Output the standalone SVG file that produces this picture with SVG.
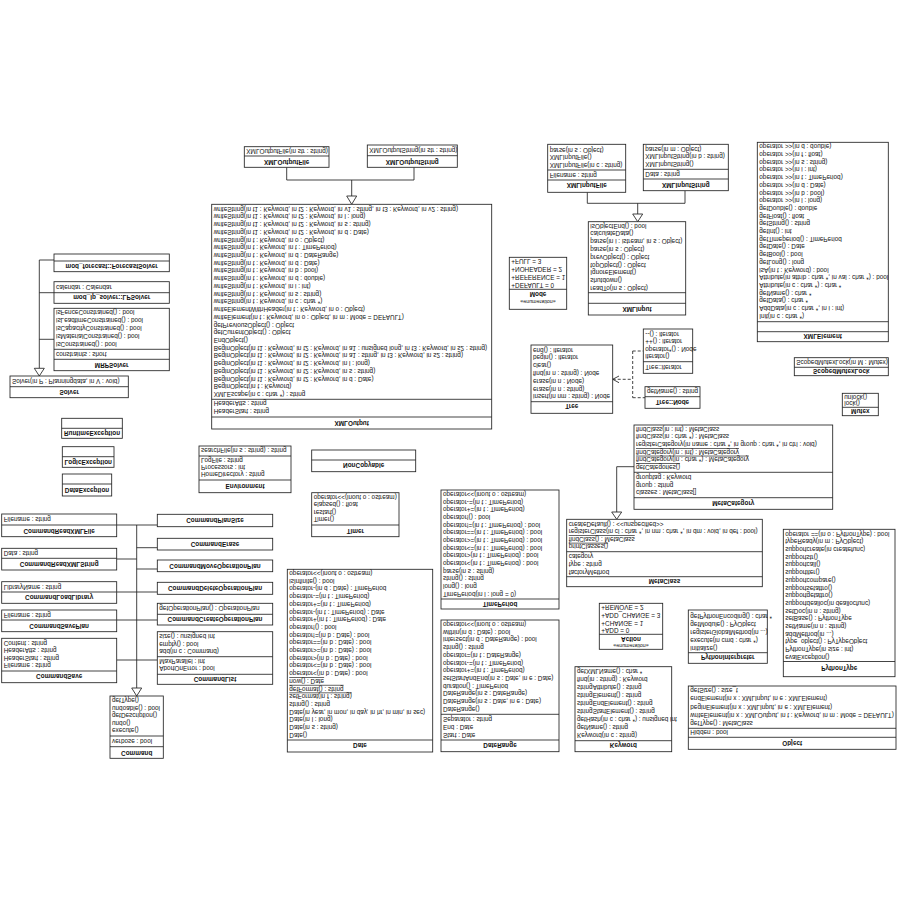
<svg xmlns="http://www.w3.org/2000/svg" width="900" height="900" viewBox="0 0 900 900">
<style>
.c{fill:#fff;stroke:#222;stroke-width:.85}
.w{fill:none;stroke:#222;stroke-width:.85}
.dash{stroke-dasharray:3 2}
.tri{fill:#fff;stroke:#222;stroke-width:.85}
text{font-family:"Liberation Sans",Arial,sans-serif;font-size:6.4px;fill:#111}
.n{font-weight:bold;text-anchor:middle}
.s{font-size:5.3px;text-anchor:middle}
.u{text-decoration:underline}
</style>
<rect width="900" height="900" fill="#fff"/>
<!-- the whole class diagram is drawn mirrored top-to-bottom -->
<g transform="matrix(1 0 0 -1 0 900)">

<g id="connectors">
  <!-- XMLOutput hierarchy -->
  <path class="w" d="M286.7 732.7V720H414V732.7M351.7 720V704"/>
  <polygon class="tri" points="351.7,695.7 346.7,704 356.7,704"/>
  <!-- Solver hierarchy -->
  <path class="w" d="M39.3 640V531.7M39.3 640H54M39.3 607.3H54M39.3 560.7H54"/>
  <polygon class="tri" points="39.3,524 34.3,531.7 44.3,531.7"/>
  <!-- XMLInput hierarchy -->
  <path class="w" d="M587.3 707.7V696.7H685V709.3M637.7 696.7V686"/>
  <polygon class="tri" points="637.7,678.3 632.7,686 642.7,686"/>
  <!-- Tree nesting -->
  <path class="w dash" d="M612.7 520.7H632.7M632.7 549V502.3M632.7 549H643.3M632.7 502.3H645"/>
  <polyline class="w" points="619,524 612.7,520.7 619,517.3"/>
  <!-- MetaClass hierarchy -->
  <path class="w" d="M634 433.3H616.7V388"/>
  <polygon class="tri" points="616.7,380.7 611.7,388 621.7,388"/>
  <!-- Command hierarchy -->
  <path class="w" d="M136.7 375V212M116.7 375H157.3M116.7 341H136.7M116.7 308H157.3M116.7 280H157.3M116.7 240H157.3M136.7 352.3H157.3M136.7 331H157.3"/>
  <polygon class="tri" points="136.7,204 131.7,212 141.7,212"/>
</g>

<g id="XMLOutput">
  <rect class="c" x="211.7" y="471" width="280" height="224.7"/>
  <path class="w" d="M211.7 483H491.7M211.7 500.7H491.7"/>
  <text class="n" x="351.7" y="478.6">XMLOutput</text>
  <text x="213.7" y="490.6">HeaderStart : string</text>
  <text x="213.7" y="498.6">HeaderAtts : string</text>
  <text x="213.7" y="508">
    <tspan x="213.7" dy="0">XMLEscape(in c : char *) : string</tspan>
    <tspan x="213.7" dy="7.72">BeginObject(in t : Keyword)</tspan>
    <tspan x="213.7" dy="7.72">BeginObject(in t1 : Keyword, in t2 : Keyword, in d : Date)</tspan>
    <tspan x="213.7" dy="7.72">BeginObject(in t1 : Keyword, in t2 : Keyword, in s : string)</tspan>
    <tspan x="213.7" dy="7.72">BeginObject(in t1 : Keyword, in t2 : Keyword, in l : long)</tspan>
    <tspan x="213.7" dy="7.72">BeginObject(in t1 : Keyword, in t2 : Keyword, in a1 : string, in t3 : Keyword, in s2 : string)</tspan>
    <tspan x="213.7" dy="7.72">BeginObject(in t1 : Keyword, in t2 : Keyword, in a1 : unsigned long, in t3 : Keyword, in s2 : string)</tspan>
    <tspan x="213.7" dy="7.72">EndObject()</tspan>
    <tspan x="213.7" dy="7.72">getCurrentObject() : Object</tspan>
    <tspan x="213.7" dy="7.72">getPreviousObject() : Object</tspan>
    <tspan x="213.7" dy="7.72">writeElement(in t : Keyword, in o : Object, in m : Mode = DEFAULT)</tspan>
    <tspan x="213.7" dy="7.72">writeElementWithHeader(in t : Keyword, in o : Object)</tspan>
    <tspan x="213.7" dy="7.72">writeString(in t : Keyword, in c : char *)</tspan>
    <tspan x="213.7" dy="7.72">writeString(in t : Keyword, in s : string)</tspan>
    <tspan x="213.7" dy="7.72">writeString(in t : Keyword, in i : int)</tspan>
    <tspan x="213.7" dy="7.72">writeString(in t : Keyword, in d : double)</tspan>
    <tspan x="213.7" dy="7.72">writeString(in t : Keyword, in b : bool)</tspan>
    <tspan x="213.7" dy="7.72">writeString(in t : Keyword, in d : Date)</tspan>
    <tspan x="213.7" dy="7.72">writeString(in t : Keyword, in d : DateRange)</tspan>
    <tspan x="213.7" dy="7.72">writeString(in t : Keyword, in t : TimePeriod)</tspan>
    <tspan x="213.7" dy="7.72">writeString(in t : Keyword, in o : Object)</tspan>
    <tspan x="213.7" dy="7.72">writeString(in t1 : Keyword, in t2 : Keyword, in d : Date)</tspan>
    <tspan x="213.7" dy="7.72">writeString(in t1 : Keyword, in t2 : Keyword, in s : string)</tspan>
    <tspan x="213.7" dy="7.72">writeString(in t1 : Keyword, in t2 : Keyword, in l : long)</tspan>
    <tspan x="213.7" dy="7.72">writeString(in t1 : Keyword, in t2 : Keyword, in v1 : string, in t3 : Keyword, in v2 : string)</tspan>
  </text>
</g>

<g id="XMLOutputFile">
  <rect class="c" x="244.3" y="732.7" width="84.7" height="20.6"/>
  <path class="w" d="M244.3 744H329"/>
  <text class="n" x="286.7" y="740">XMLOutputFile</text>
  <text x="246.3" y="751.4">XMLOutputFile(in str : string)</text>
</g>

<g id="XMLOutputString">
  <rect class="c" x="367.3" y="732.7" width="90" height="22.3"/>
  <path class="w" d="M367.3 744.3H457.3"/>
  <text class="n" x="412.3" y="740">XMLOutputString</text>
  <text x="369.3" y="751.8">XMLOutputString(in str : string)</text>
</g>

<g id="ForecastSolver">
  <rect class="c" x="54" y="628.3" width="115.3" height="17.7"/>
  <path class="w" d="M54 639H169.3"/>
  <text class="n" x="111.7" y="636.3">mod_forecast::ForecastSolver</text>
</g>

<g id="LPSolver">
  <rect class="c" x="54" y="596.7" width="115.3" height="21.6"/>
  <path class="w" d="M54 607.3H169.3"/>
  <text class="n" x="111.7" y="604.6">mod_lp_solver::LPSolver</text>
  <text x="56" y="615">calendar : Calendar</text>
</g>

<g id="MRPSolver">
  <rect class="c" x="54" y="529.3" width="115.3" height="62.4"/>
  <path class="w" d="M54 540.7H169.3M54 550.7H169.3"/>
  <text class="n" x="111.7" y="537.3">MRPSolver</text>
  <text x="56" y="548">constraints : short</text>
  <text x="56" y="557.6">
    <tspan x="56" dy="0">isConstrained() : bool</tspan>
    <tspan x="56" dy="8">isMaterialConstrained() : bool</tspan>
    <tspan x="56" dy="8">isCapacityConstrained() : bool</tspan>
    <tspan x="56" dy="8">isLeadtimeConstrained() : bool</tspan>
    <tspan x="56" dy="8">isFenceConstrained() : bool</tspan>
  </text>
</g>

<g id="Solver">
  <rect class="c" x="10" y="502.3" width="118.3" height="21.7"/>
  <path class="w" d="M10 513.3H128.3"/>
  <text class="n" x="69.2" y="510">Solver</text>
  <text x="12" y="520.6">Solver(in P : Planningdata, in V : void)</text>
</g>

<g id="RuntimeException">
  <rect class="c" x="61.7" y="461.7" width="60.6" height="20"/>
  <path class="w" d="M61.7 471.7H122.3"/>
  <text class="n" x="92" y="469">RuntimeException</text>
</g>

<g id="LogicException">
  <rect class="c" x="62.3" y="432.7" width="51.7" height="20.6"/>
  <path class="w" d="M62.3 443.3H114"/>
  <text class="n" x="88.2" y="440">LogicException</text>
</g>

<g id="DataException">
  <rect class="c" x="62.3" y="404" width="49.4" height="22"/>
  <path class="w" d="M62.3 416H111.7"/>
  <text class="n" x="87" y="412.3">DataException</text>
</g>

<g id="XMLInputFile">
  <rect class="c" x="547.7" y="707.7" width="78" height="48"/>
  <path class="w" d="M547.7 720H625.7M547.7 730H625.7"/>
  <text class="n" x="586.7" y="716.6">XMLInputFile</text>
  <text x="549.7" y="727.3">Filename : string</text>
  <text x="549.7" y="737">
    <tspan x="549.7" dy="0">XMLInputFile(in c : string)</tspan>
    <tspan x="549.7" dy="7.7">XMLInputFile()</tspan>
    <tspan x="549.7" dy="7.7">parse(in s : Object)</tspan>
  </text>
</g>

<g id="XMLInputString">
  <rect class="c" x="643.3" y="709.3" width="85" height="46.4"/>
  <path class="w" d="M643.3 721H728.3M643.3 730.7H728.3"/>
  <text class="n" x="685.8" y="717.3">XMLInputString</text>
  <text x="645.3" y="728.3">Data : string</text>
  <text x="645.3" y="738.3">
    <tspan x="645.3" dy="0">XMLInputString()</tspan>
    <tspan x="645.3" dy="7.6">XMLInputString(in b : string)</tspan>
    <tspan x="645.3" dy="7.6">parse(in m : Object)</tspan>
  </text>
</g>

<g id="XMLInput">
  <rect class="c" x="588.3" y="585" width="97.4" height="93.3"/>
  <path class="w" d="M588.3 596.7H685.7M588.3 607.3H685.7"/>
  <text class="n" x="637" y="593.3">XMLInput</text>
  <text x="590.3" y="614">
    <tspan x="590.3" dy="0">readTo(in s : Object)</tspan>
    <tspan x="590.3" dy="7.8">shutdown()</tspan>
    <tspan x="590.3" dy="7.8">IgnoreElement()</tspan>
    <tspan x="590.3" dy="7.8">topObject() : Object</tspan>
    <tspan x="590.3" dy="7.8">prevObject() : Object</tspan>
    <tspan x="590.3" dy="7.8">parse(in s : Object)</tspan>
    <tspan x="590.3" dy="7.8">parse(in i : istream, in s : Object)</tspan>
    <tspan x="590.3" dy="7.8">calculateData()</tspan>
    <tspan x="590.3" dy="7.8">isObjectEnd() : bool</tspan>
  </text>
</g>

<g id="Mode">
  <rect class="c" x="509.3" y="590.7" width="57.4" height="52"/>
  <path class="w" d="M509.3 610.7H566.7"/>
  <text class="s" x="538" y="600.3">«enumeration»</text>
  <text class="n" x="538" y="607.6">Mode</text>
  <text x="511.3" y="617.3">
    <tspan x="511.3" dy="0">+DEFAULT = 0</tspan>
    <tspan x="511.3" dy="7.8">+REFERENCE = 1</tspan>
    <tspan x="511.3" dy="7.8">+NOHEADER = 2</tspan>
    <tspan x="511.3" dy="7.8">+FULL = 3</tspan>
  </text>
</g>

<g id="Tree">
  <rect class="c" x="531" y="486.7" width="81.7" height="68.3"/>
  <path class="w" d="M531 498.3H612.7"/>
  <text class="n" x="571.8" y="495.6">Tree</text>
  <text x="533" y="505.6">
    <tspan x="533" dy="0">insert(in nm : string) : Node</tspan>
    <tspan x="533" dy="7.8">erase(in n : string)</tspan>
    <tspan x="533" dy="7.8">erase(in n : Node)</tspan>
    <tspan x="533" dy="7.8">find(in n : string) : Node</tspan>
    <tspan x="533" dy="7.8">clear()</tspan>
    <tspan x="533" dy="7.8">begin() : iterator</tspan>
    <tspan x="533" dy="7.8">end() : iterator</tspan>
  </text>
</g>

<g id="TreeIterator">
  <rect class="c" x="643.3" y="526.7" width="49.4" height="44.3"/>
  <path class="w" d="M643.3 538.3H692.7"/>
  <text x="645.3" y="535">Tree::iterator</text>
  <text x="645.3" y="545.6">
    <tspan x="645.3" dy="0">iterator()</tspan>
    <tspan x="645.3" dy="7.5">operator*() : Node</tspan>
    <tspan x="645.3" dy="7.5">++() : iterator</tspan>
    <tspan x="645.3" dy="7.5">--() : iterator</tspan>
  </text>
</g>

<g id="TreeNode">
  <rect class="c" x="645" y="491.7" width="55" height="21.6"/>
  <path class="w" d="M645 503.3H700"/>
  <text class="n" x="672.5" y="500">Tree::Node</text>
  <text x="647" y="510.6">getName() : string</text>
</g>

<g id="XMLElement">
  <rect class="c" x="757.3" y="558.3" width="131" height="199.4"/>
  <path class="w" d="M757.3 568.3H888.3M757.3 578.3H888.3"/>
  <text class="n" x="822.8" y="565.6">XMLElement</text>
  <text x="759.3" y="586.3">
    <tspan x="759.3" dy="0">Init(in c : char *)</tspan>
    <tspan x="759.3" dy="7.7">AddData(in c : char *, in i : int)</tspan>
    <tspan x="759.3" dy="7.7">getData() : char *</tspan>
    <tspan x="759.3" dy="7.7">getName() : char *</tspan>
    <tspan x="759.3" dy="7.7">Attribute(in c : char *) : char *</tspan>
    <tspan x="759.3" dy="7.7">Attribute(in attrib : char *, in val : char *) : bool</tspan>
    <tspan x="759.3" dy="7.7">isA(in t : Keyword) : bool</tspan>
    <tspan x="759.3" dy="7.7">getLong() : long</tspan>
    <tspan x="759.3" dy="7.7">getBool() : bool</tspan>
    <tspan x="759.3" dy="7.7">getDate() : Date</tspan>
    <tspan x="759.3" dy="7.7">getTimeperiod() : TimePeriod</tspan>
    <tspan x="759.3" dy="7.7">getInt() : int</tspan>
    <tspan x="759.3" dy="7.7">getString() : string</tspan>
    <tspan x="759.3" dy="7.7">getFloat() : float</tspan>
    <tspan x="759.3" dy="7.7">getDouble() : double</tspan>
    <tspan x="759.3" dy="7.7">operator &gt;&gt;(in l : long)</tspan>
    <tspan x="759.3" dy="7.7">operator &gt;&gt;(in b : bool)</tspan>
    <tspan x="759.3" dy="7.7">operator &gt;&gt;(in d : Date)</tspan>
    <tspan x="759.3" dy="7.7">operator &gt;&gt;(in t : TimePeriod)</tspan>
    <tspan x="759.3" dy="7.7">operator &gt;&gt;(in i : int)</tspan>
    <tspan x="759.3" dy="7.7">operator &gt;&gt;(in s : string)</tspan>
    <tspan x="759.3" dy="7.7">operator &gt;&gt;(in f : float)</tspan>
    <tspan x="759.3" dy="7.7">operator &gt;&gt;(in d : double)</tspan>
  </text>
</g>

<g id="ScopedMutexLock">
  <rect class="c" x="794.3" y="524.3" width="94" height="18"/>
  <path class="w" d="M794.3 532.7H888.3"/>
  <text class="n" x="841.3" y="530.6">ScopedMutexLock</text>
  <text x="796.3" y="539.8">ScopedMutexLock(in M : Mutex)</text>
</g>

<g id="Mutex">
  <rect class="c" x="842.3" y="484.3" width="36" height="22.4"/>
  <path class="w" d="M842.3 492.7H878.3"/>
  <text class="n" x="860.3" y="490.6">Mutex</text>
  <text x="844.3" y="499">lock()</text>
  <text x="844.3" y="505.3">unlock()</text>
</g>

<g id="Environment">
  <rect class="c" x="199" y="407.3" width="92" height="46.7"/>
  <path class="w" d="M199 420H291M199 444H291"/>
  <text class="n" x="245" y="416.3">Environment</text>
  <text x="201" y="428">
    <tspan x="201" dy="0">HomeDirectory : string</tspan>
    <tspan x="201" dy="6.8">Processors : int</tspan>
    <tspan x="201" dy="6.8">LogFile : string</tspan>
  </text>
  <text x="201" y="451.6">searchFile(in s : string) : string</text>
</g>

<g id="NonCopyable">
  <rect class="c" x="311.7" y="428.3" width="104" height="21.7"/>
  <path class="w" d="M311.7 440H415.7"/>
  <text class="n" x="363.7" y="436.6">NonCopyable</text>
</g>

<g id="Timer">
  <rect class="c" x="311.7" y="363.3" width="87.3" height="44"/>
  <path class="w" d="M311.7 375H399"/>
  <text class="n" x="355.3" y="371.3">Timer</text>
  <text x="313.7" y="383">
    <tspan x="313.7" dy="0">Timer()</tspan>
    <tspan x="313.7" dy="7.4">restart()</tspan>
    <tspan x="313.7" dy="7.4">elapsed() : float</tspan>
    <tspan x="313.7" dy="7.4">operator&lt;&lt;(inout o : ostream)</tspan>
  </text>
</g>

<g id="CommandReadXMLFile">
  <rect class="c" x="1.7" y="363.3" width="115" height="22.7"/>
  <path class="w" d="M1.7 375H116.7"/>
  <text class="n" x="59.2" y="371.3">CommandReadXMLFile</text>
  <text x="3.7" y="382.6">Filename : string</text>
</g>

<g id="CommandReadXMLString">
  <rect class="c" x="1.7" y="330" width="115" height="21.7"/>
  <path class="w" d="M1.7 341.7H116.7"/>
  <text class="n" x="59.2" y="338">CommandReadXMLString</text>
  <text x="3.7" y="349">Data : string</text>
</g>

<g id="CommandLoadLibrary">
  <rect class="c" x="1.7" y="296.7" width="115" height="21.6"/>
  <path class="w" d="M1.7 308H116.7"/>
  <text class="n" x="59.2" y="304.6">CommandLoadLibrary</text>
  <text x="3.7" y="315.3">LibraryName : string</text>
</g>

<g id="CommandSavePlan">
  <rect class="c" x="1.7" y="268.3" width="115" height="21.7"/>
  <path class="w" d="M1.7 280H116.7"/>
  <text class="n" x="59.2" y="276.3">CommandSavePlan</text>
  <text x="3.7" y="287.3">Filename : string</text>
</g>

<g id="CommandSave">
  <rect class="c" x="1.7" y="217.3" width="115" height="44.4"/>
  <path class="w" d="M1.7 229H116.7"/>
  <text class="n" x="59.2" y="225.6">CommandSave</text>
  <text x="3.7" y="236.6">
    <tspan x="3.7" dy="0">Filename : string</tspan>
    <tspan x="3.7" dy="7.5">HeaderStart : string</tspan>
    <tspan x="3.7" dy="7.5">HeaderAtts : string</tspan>
    <tspan x="3.7" dy="7.5">Content : string</tspan>
  </text>
</g>

<g id="CommandPlanSize">
  <rect class="c" x="157.3" y="373.3" width="115.4" height="12.4"/>
  <text class="n" x="215" y="381.6">CommandPlanSize</text>
</g>

<g id="CommandErase">
  <rect class="c" x="157.3" y="350" width="115.4" height="11.7"/>
  <text class="n" x="215" y="358.3">CommandErase</text>
</g>

<g id="CommandMoveOperationPlan">
  <rect class="c" x="157.3" y="328.3" width="115.4" height="11.7"/>
  <text class="n" x="215" y="336.5">CommandMoveOperationPlan</text>
</g>

<g id="CommandDeleteOperationPlan">
  <rect class="c" x="157.3" y="305.7" width="115.4" height="12"/>
  <text class="n" x="215" y="314">CommandDeleteOperationPlan</text>
</g>

<g id="CommandCreateOperationPlan">
  <rect class="c" x="157.3" y="275" width="115.4" height="21.7"/>
  <path class="w" d="M157.3 285.7H272.7"/>
  <text class="n" x="215" y="282.6">CommandCreateOperationPlan</text>
  <text x="159.3" y="293.6">getOperationPlan() : OperationPlan</text>
</g>

<g id="CommandList">
  <rect class="c" x="157.3" y="215.7" width="115.4" height="52.6"/>
  <path class="w" d="M157.3 225.7H272.7M157.3 243.3H272.7"/>
  <text class="n" x="215" y="223.3">CommandList</text>
  <text x="159.3" y="234">AbortOnError : bool</text>
  <text x="159.3" y="240.8">MaxParallel : int</text>
  <text x="159.3" y="251.3">
    <tspan x="159.3" dy="0">add(in c : Command)</tspan>
    <tspan x="159.3" dy="7.2">empty() : bool</tspan>
    <tspan x="159.3" dy="7.2">size() : unsigned int</tspan>
  </text>
</g>

<g id="Command">
  <rect class="c" x="110" y="141.7" width="53.3" height="62.3"/>
  <path class="w" d="M110 153.3H163.3M110 164H163.3"/>
  <text class="n" x="136.7" y="149.2">Command</text>
  <text x="112" y="161.3">verbose : bool</text>
  <text x="112" y="171.6">
    <tspan x="112" dy="0">execute()</tspan>
    <tspan x="112" dy="7.6">undo()</tspan>
    <tspan x="112" dy="7.6">getDescription()</tspan>
    <tspan x="112" dy="7.6">undoable() : bool</tspan>
    <tspan x="112" dy="7.6">getType()</tspan>
  </text>
</g>

<g id="Date">
  <rect class="c" x="287.3" y="148" width="145.4" height="182.7"/>
  <path class="w" d="M287.3 160H432.7"/>
  <text class="n" x="360" y="156.6">Date</text>
  <text x="289.3" y="167.3">
    <tspan x="289.3" dy="0">Date()</tspan>
    <tspan x="289.3" dy="7.7">Date(in s : string)</tspan>
    <tspan x="289.3" dy="7.7">Date(in l : long)</tspan>
    <tspan x="289.3" dy="7.7">Date(in year, in mon, in day, in hr, in min, in sec)</tspan>
    <tspan x="289.3" dy="7.7">string() : string</tspan>
    <tspan x="289.3" dy="7.7" class="u">setFormat(in f : string)</tspan>
    <tspan x="289.3" dy="7.7" class="u">getFormat() : string</tspan>
    <tspan x="289.3" dy="7.7" class="u">now() : Date</tspan>
    <tspan x="289.3" dy="7.7">operator&lt;(in b : Date) : bool</tspan>
    <tspan x="289.3" dy="7.7">operator&lt;=(in b : Date) : bool</tspan>
    <tspan x="289.3" dy="7.7">operator&gt;(in b : Date) : bool</tspan>
    <tspan x="289.3" dy="7.7">operator&gt;=(in b : Date) : bool</tspan>
    <tspan x="289.3" dy="7.7">operator==(in b : Date) : bool</tspan>
    <tspan x="289.3" dy="7.7">operator!=(in b : Date) : bool</tspan>
    <tspan x="289.3" dy="7.7">operator!() : bool</tspan>
    <tspan x="289.3" dy="7.7">operator+(in t : TimePeriod) : Date</tspan>
    <tspan x="289.3" dy="7.7">operator-(in t : TimePeriod) : Date</tspan>
    <tspan x="289.3" dy="7.7">operator+=(in t : TimePeriod)</tspan>
    <tspan x="289.3" dy="7.7">operator-=(in t : TimePeriod)</tspan>
    <tspan x="289.3" dy="7.7">operator-(in d : Date) : TimePeriod</tspan>
    <tspan x="289.3" dy="7.7">isInfinite() : bool</tspan>
    <tspan x="289.3" dy="7.7">operator&lt;&lt;(inout o : ostream)</tspan>
  </text>
</g>

<g id="TimePeriod">
  <rect class="c" x="441" y="291" width="118" height="119"/>
  <path class="w" d="M441 301H559"/>
  <text class="n" x="500" y="298.3">TimePeriod</text>
  <text x="443" y="308.3">
    <tspan x="443" dy="0">TimePeriod(in l : long = 0)</tspan>
    <tspan x="443" dy="7.67">long() : long</tspan>
    <tspan x="443" dy="7.67">string() : string</tspan>
    <tspan x="443" dy="7.67">parse(in s : string)</tspan>
    <tspan x="443" dy="7.67">operator&lt;(in t : TimePeriod) : bool</tspan>
    <tspan x="443" dy="7.67">operator&gt;(in t : TimePeriod) : bool</tspan>
    <tspan x="443" dy="7.67">operator&lt;=(in t : TimePeriod) : bool</tspan>
    <tspan x="443" dy="7.67">operator&gt;=(in t : TimePeriod) : bool</tspan>
    <tspan x="443" dy="7.67">operator==(in t : TimePeriod) : bool</tspan>
    <tspan x="443" dy="7.67">operator!=(in t : TimePeriod) : bool</tspan>
    <tspan x="443" dy="7.67">operator!() : bool</tspan>
    <tspan x="443" dy="7.67">operator+=(in t : TimePeriod)</tspan>
    <tspan x="443" dy="7.67">operator-=(in t : TimePeriod)</tspan>
    <tspan x="443" dy="7.67">operator&lt;&lt;(inout o : ostream)</tspan>
  </text>
</g>

<g id="DateRange">
  <rect class="c" x="441" y="148.3" width="118" height="131.7"/>
  <path class="w" d="M441 160H559M441 185.7H559"/>
  <text class="n" x="500" y="156.6">DateRange</text>
  <text x="443" y="167.3">
    <tspan x="443" dy="0">Start : Date</tspan>
    <tspan x="443" dy="7.8">End : Date</tspan>
    <tspan x="443" dy="7.8">Separator : string</tspan>
  </text>
  <text x="443" y="193.3">
    <tspan x="443" dy="0">DateRange()</tspan>
    <tspan x="443" dy="7.7">DateRange(in s : Date, in e : Date)</tspan>
    <tspan x="443" dy="7.7">DateRange(in s : DateRange)</tspan>
    <tspan x="443" dy="7.7">duration() : TimePeriod</tspan>
    <tspan x="443" dy="7.7">setStartAndEnd(in s : Date, in e : Date)</tspan>
    <tspan x="443" dy="7.7">operator+=(in t : TimePeriod)</tspan>
    <tspan x="443" dy="7.7">operator-=(in t : TimePeriod)</tspan>
    <tspan x="443" dy="7.7">operator=(in t : DateRange)</tspan>
    <tspan x="443" dy="7.7">string() : string</tspan>
    <tspan x="443" dy="7.7">intersect(in d : DateRange) : bool</tspan>
    <tspan x="443" dy="7.7">within(in d : Date) : bool</tspan>
    <tspan x="443" dy="7.7">operator&lt;&lt;(inout o : ostream)</tspan>
  </text>
</g>

<g id="MetaCategory">
  <rect class="c" x="634" y="390.7" width="198.7" height="84.3"/>
  <path class="w" d="M634 402.3H832.7M634 427.7H832.7"/>
  <text class="n" x="733.3" y="399">MetaCategory</text>
  <text x="636" y="409.6">
    <tspan x="636" dy="0">classes : MetaClass[]</tspan>
    <tspan x="636" dy="7.7">group : string</tspan>
    <tspan x="636" dy="7.7">grouptag : Keyword</tspan>
  </text>
  <text x="636" y="435">
    <tspan x="636" dy="0" class="u">getCategories()</tspan>
    <tspan x="636" dy="7.66" class="u">findCategory(in : char *) : MetaCategory</tspan>
    <tspan x="636" dy="7.66" class="u">findCategory(in : int) : MetaCategory</tspan>
    <tspan x="636" dy="7.66">registerCategory(in name : char *, in group : char *, in ctrl : void)</tspan>
    <tspan x="636" dy="7.66">findClass(in : char *) : MetaClass</tspan>
    <tspan x="636" dy="7.66">findClass(in : int) : MetaClass</tspan>
  </text>
</g>

<g id="MetaClass">
  <rect class="c" x="566.7" y="313.3" width="195.6" height="67.4"/>
  <path class="w" d="M566.7 323.3H762.3M566.7 348.3H762.3"/>
  <text class="n" x="664.5" y="320.6">MetaClass</text>
  <text x="568.7" y="330.3">
    <tspan x="568.7" dy="0">factoryMethod</tspan>
    <tspan x="568.7" dy="7.65">type : string</tspan>
    <tspan x="568.7" dy="7.65">category</tspan>
  </text>
  <text x="568.7" y="355.6">
    <tspan x="568.7" dy="0" class="u">printClasses()</tspan>
    <tspan x="568.7" dy="7.55" class="u">findClass() : MetaClass</tspan>
    <tspan x="568.7" dy="7.55">registerClass(in cl : char *, in nm : char *, in dm : void, in def : bool)</tspan>
    <tspan x="568.7" dy="7.55">createDefault() : &lt;&lt;unspecified&gt;&gt;</tspan>
  </text>
</g>

<g id="PythonType">
  <rect class="c" x="783.3" y="223.3" width="111.7" height="147.4"/>
  <path class="w" d="M783.3 238.5H895"/>
  <text class="n" x="839.2" y="233.6">PythonType</text>
  <text x="785.3" y="245.3">
    <tspan x="785.3" dy="0">evalException()</tspan>
    <tspan x="785.3" dy="7.69">PythonType(in size : int)</tspan>
    <tspan x="785.3" dy="7.69">type_object() : PyTypeObject</tspan>
    <tspan x="785.3" dy="7.69">addMethod(in ...)</tspan>
    <tspan x="785.3" dy="7.69">setName(in n : string)</tspan>
    <tspan x="785.3" dy="7.69">setBase() : PythonType</tspan>
    <tspan x="785.3" dy="7.69">setDoc(in n : string)</tspan>
    <tspan x="785.3" dy="7.69">supportdealloc(in deallocfunc)</tspan>
    <tspan x="785.3" dy="7.69">supportgetattro()</tspan>
    <tspan x="785.3" dy="7.69">supportsetattro()</tspan>
    <tspan x="785.3" dy="7.69">supportcompare()</tspan>
    <tspan x="785.3" dy="7.69">supportiter()</tspan>
    <tspan x="785.3" dy="7.69">supportcall()</tspan>
    <tspan x="785.3" dy="7.69">supportstr()</tspan>
    <tspan x="785.3" dy="7.69">supportcreate(in createfunc)</tspan>
    <tspan x="785.3" dy="7.69">typeReady(in m : PyObject)</tspan>
    <tspan x="785.3" dy="7.69">operator ==(in o : PythonType) : bool</tspan>
  </text>
</g>

<g id="Action">
  <rect class="c" x="599.3" y="250.7" width="63.4" height="46"/>
  <path class="w" d="M599.3 265.7H662.7"/>
  <text class="s" x="631" y="256.2">«enumeration»</text>
  <text class="n" x="631" y="263">Action</text>
  <text x="601.3" y="271.6">
    <tspan x="601.3" dy="0">+ADD = 0</tspan>
    <tspan x="601.3" dy="7.8">+CHANGE = 1</tspan>
    <tspan x="601.3" dy="7.8">+ADD_CHANGE = 3</tspan>
    <tspan x="601.3" dy="7.8">+REMOVE = 2</tspan>
  </text>
</g>

<g id="PythonInterpreter">
  <rect class="c" x="688.3" y="236.7" width="79" height="53.3"/>
  <path class="w" d="M688.3 247.3H767.3"/>
  <text class="n" x="727.8" y="244.6">PythonInterpreter</text>
  <text x="690.3" y="254">
    <tspan x="690.3" dy="0">initialize()</tspan>
    <tspan x="690.3" dy="8">execute(in cmd : char *)</tspan>
    <tspan x="690.3" dy="8">registerGlobalMethod(in ...)</tspan>
    <tspan x="690.3" dy="8">getModule() : PyObject</tspan>
    <tspan x="690.3" dy="8">getPythonEncoding() : char *</tspan>
  </text>
</g>

<g id="Keyword">
  <rect class="c" x="575" y="148.3" width="96.7" height="85"/>
  <path class="w" d="M575 159.3H671.7"/>
  <text class="n" x="623.3" y="156.6">Keyword</text>
  <text x="577" y="166.6">
    <tspan x="577" dy="0">Keyword(in c : string)</tspan>
    <tspan x="577" dy="8">getName() : string</tspan>
    <tspan x="577" dy="8">getHash(in c : char *) : unsigned int</tspan>
    <tspan x="577" dy="8">stringStartElement() : string</tspan>
    <tspan x="577" dy="8">stringEndElement() : string</tspan>
    <tspan x="577" dy="8">stringElement() : string</tspan>
    <tspan x="577" dy="8">stringAttribute() : string</tspan>
    <tspan x="577" dy="8">find(in : string) : Keyword</tspan>
    <tspan x="577" dy="8">getXMLName() : char *</tspan>
  </text>
</g>

<g id="Object">
  <rect class="c" x="688.3" y="150.7" width="207.7" height="63.3"/>
  <path class="w" d="M688.3 162.7H896M688.3 171.7H896"/>
  <text class="n" x="792.2" y="158.6">Object</text>
  <text x="690.3" y="169.6">Hidden : bool</text>
  <text x="690.3" y="179">
    <tspan x="690.3" dy="0">getType() : MetaClass</tspan>
    <tspan x="690.3" dy="8.2">writeElement(in x : XMLOutput, in t : Keyword, in m : Mode = DEFAULT)</tspan>
    <tspan x="690.3" dy="8.2">beginElement(in x : XMLInput, in e : XMLElement)</tspan>
    <tspan x="690.3" dy="8.2">endElement(in x : XMLInput, in e : XMLElement)</tspan>
    <tspan x="690.3" dy="8.2">getSize() : size_t</tspan>
  </text>
</g>

</g>
</svg>
